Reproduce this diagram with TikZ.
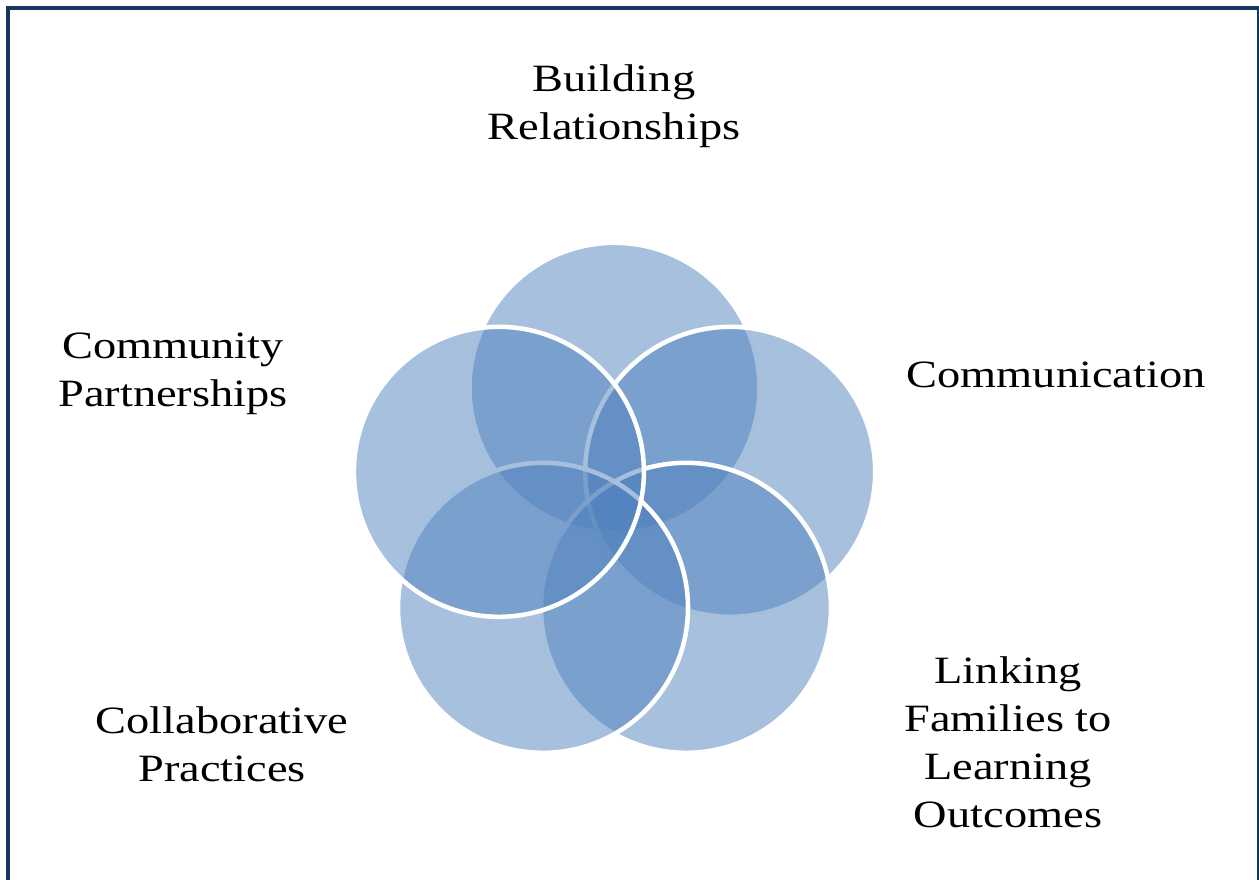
\documentclass[tikz,border=0pt]{standalone}
\usepackage{fontspec}
\newfontfamily\labelfont{Liberation Serif}[FakeStretch=1.2]
\definecolor{frameblue}{HTML}{17365D}
\definecolor{venncol}{HTML}{4F81BD}
\newcommand\stack[1]{\begin{tabular}[t]{@{}c@{}}#1\end{tabular}}
\begin{document}
\begin{tikzpicture}[x=0.75pt,y=-0.75pt,
  venn/.style={fill=venncol,fill opacity=0.5,draw=white,line width=3.4pt},
  lbl/.style={anchor=base,inner sep=0pt,text=black,
    font=\labelfont\fontsize{29}{36}\selectfont}]
  \useasboundingbox (0,0) rectangle (1259,879);
  % outer frame, partly cut by the page edge
  \begin{scope}
    \clip (0,0) rectangle (1259,879);
    \draw[frameblue,line width=3pt] (8,8) rectangle (1259,920);
  \end{scope}
  % circle centres on a pentagon
  \coordinate (cT)  at (614.5,387.8);
  \coordinate (cR)  at (730.2,471.8);
  \coordinate (cLR) at (686.0,607.8);
  \coordinate (cLL) at (543.0,607.8);
  \coordinate (cL)  at (498.9,471.8);
  \draw[venn] (cT)  circle[radius=145];
  \draw[venn] (cR)  circle[radius=145];
  \draw[venn] (cLR) circle[radius=145];
  \draw[venn] (cLL) circle[radius=145];
  \draw[venn] (cL)  circle[radius=145];
  % labels
  \node[lbl] (build) at (614,91)  {\stack{Building\\Relationships}};
  \node[lbl] (comm)  at (1056,387) {\stack{Communication}};
  \node[lbl] (link)  at (1008,683) {\stack{Linking\\Families to\\Learning\\Outcomes}};
  \node[lbl] (coll)  at (222,733) {\stack{Collaborative\\Practices}};
  \node[lbl] (cmty)  at (173,358) {\stack{Community\\Partnerships}};
\end{tikzpicture}
\end{document}
